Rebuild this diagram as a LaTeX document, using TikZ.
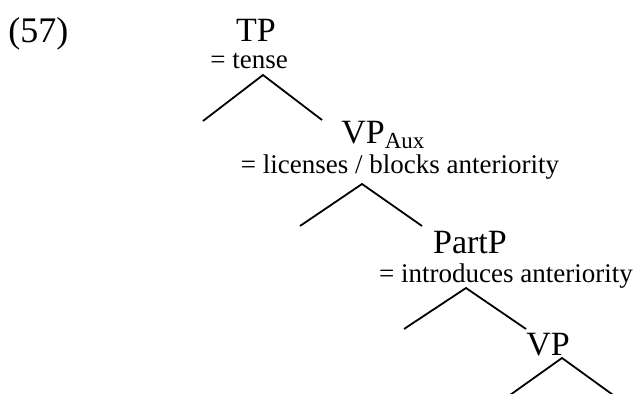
\documentclass[tikz,border=0pt]{standalone}
\usepackage{fontspec}
\setmainfont{Liberation Serif}

\begin{document}
\begin{tikzpicture}[x=0.5pt,y=-0.5pt,
  cat/.style={inner sep=0pt,anchor=base,font=\fontsize{17}{19}\selectfont},
  note/.style={inner sep=0pt,anchor=base,font=\fontsize{13.5}{15}\selectfont},
  branch/.style={line width=0.9pt}]
\useasboundingbox (0,0) rectangle (640,394);
\clip (0,0) rectangle (640,394);
\node[cat,anchor=base west,font=\fontsize{18}{20}\selectfont] (ex) at (8,43) {(57)};
% TP
\node[cat] (tp) at (256,42) {TP};
\node[note] (tpnote) at (249,69) {= tense};
\coordinate (tptop) at (263,75);
\coordinate (tpleft) at (203,121);
\coordinate (tpright) at (322,120);
\draw[branch] (tpleft) -- (tptop) -- (tpright);
% VP aux
\node[cat,anchor=base west] (vpaux) at (341,144) {VP{\fontsize{11.5}{12}\selectfont\raisebox{-2.5pt}{Aux}}};
\node[note] (vpauxnote) at (400,174) {= licenses / blocks anteriority};
\coordinate (vpauxtop) at (362,184);
\coordinate (vpauxleft) at (300,226);
\coordinate (vpauxright) at (422,226);
\draw[branch] (vpauxleft) -- (vpauxtop) -- (vpauxright);
% PartP
\node[cat] (partp) at (470,254) {PartP};
\node[note] (partpnote) at (506,283) {= introduces anteriority};
\coordinate (partptop) at (466,288);
\coordinate (partpleft) at (404,329);
\coordinate (partpright) at (526,329);
\draw[branch] (partpleft) -- (partptop) -- (partpright);
% VP
\node[cat] (vp) at (548,355) {VP};
\coordinate (vptop) at (562,358);
\coordinate (vpleft) at (503,400);
\coordinate (vpright) at (620,400);
\draw[branch] (vpleft) -- (vptop) -- (vpright);
\end{tikzpicture}
\end{document}
